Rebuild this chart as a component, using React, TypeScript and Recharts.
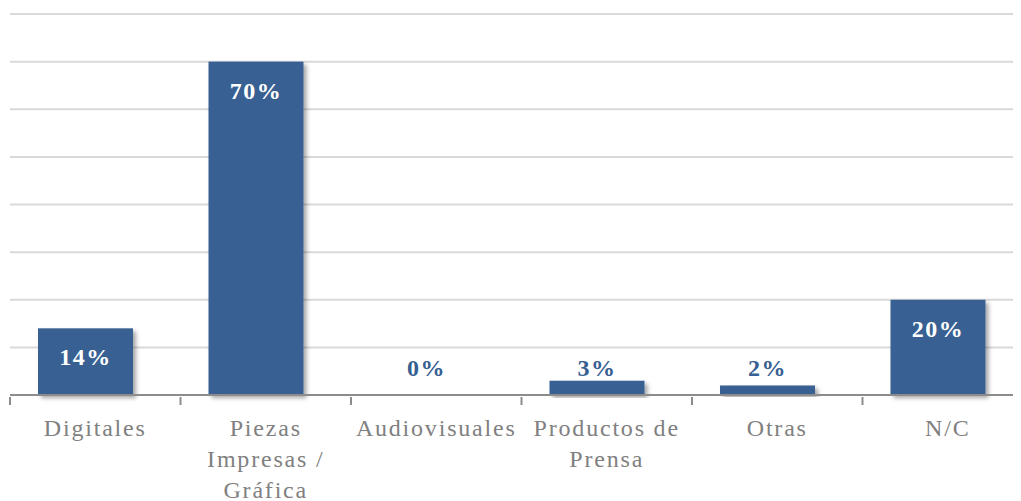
import { BarChart, Bar, XAxis, YAxis, CartesianGrid } from 'recharts'

const categories = ['Digitales', 'Piezas Impresas / Gráfica', 'Audiovisuales', 'Productos de Prensa', 'Otras', 'N/C']
const tickLines = [
  ['Digitales'],
  ['Piezas', 'Impresas /', 'Gráfica'],
  ['Audiovisuales'],
  ['Productos de', 'Prensa'],
  ['Otras'],
  ['N/C'],
]
const shares = [14, 70, 0, 3, 2, 20]
const yTicks = [0, 10, 20, 30, 40, 50, 60, 70, 80]

const BAR = '#376092'
const SERIF = 'Liberation Serif, serif'
const BAND = 1023 / categories.length
const BAR_SHIFT = -10

const data = categories.map((name, i) => ({ name, value: shares[i] }))

function CategoryTick(props: any) {
  const { x, y, index } = props
  const lines = tickLines[index] ?? []
  const axisY = y - 8
  const isLast = index === categories.length - 1
  return (
    <g>
      <line x1={x - BAND / 2} x2={x - BAND / 2} y1={axisY} y2={axisY + 8} stroke="#8c8c8c" strokeWidth={2} />
      {isLast && (
        <line x1={x + BAND / 2} x2={x + BAND / 2} y1={axisY} y2={axisY + 8} stroke="#8c8c8c" strokeWidth={2} />
      )}
      {lines.map((line, i) => (
        <text
          key={i}
          x={x}
          y={y + i * 31}
          dy={31}
          textAnchor="middle"
          fill="#808080"
          fontFamily={SERIF}
          fontSize={24}
          letterSpacing={1.8}
        >
          {line}
        </text>
      ))}
    </g>
  )
}

// bar plus its value: big bars carry it inside the top, short ones just above the axis
function ShareBar(props: any) {
  const { x, y, width, height, value } = props
  const v = Array.isArray(value) ? value[1] - value[0] : value
  const bx = x + BAR_SHIFT
  const inside = height > 40
  const baseline = inside ? y + 37 : y + height - 19
  return (
    <g>
      {height > 0 && <rect x={bx} y={y} width={width} height={height} fill={BAR} filter="url(#barShadow)" />}
      <text
        x={bx + width / 2}
        y={baseline}
        textAnchor="middle"
        fill={inside ? '#ffffff' : BAR}
        fontFamily={SERIF}
        fontWeight="bold"
        fontSize={24}
        letterSpacing={1.5}
      >
        {`${v}%`}
      </text>
    </g>
  )
}

export default function App() {
  return (
    <div style={{ width: 1013, height: 493, overflow: 'hidden', background: '#fff' }}>
      <BarChart
        width={1030}
        height={493}
        data={data}
        margin={{ top: 6, right: 5, bottom: 46, left: 2 }}
        barSize={95}
      >
        <defs>
          <filter id="barShadow" x="-10%" y="-10%" width="130%" height="130%">
            <feDropShadow dx={3} dy={3} stdDeviation={2} floodColor="#000" floodOpacity={0.35} />
          </filter>
        </defs>
        <CartesianGrid vertical={false} stroke="#d9d9d9" strokeWidth={2} />
        <YAxis hide width={0} domain={[0, 80]} ticks={yTicks} />
        <XAxis
          dataKey="name"
          height={60}
          interval={0}
          stroke="#8c8c8c"
          strokeWidth={2}
          tickLine={false}
          tickSize={8}
          tick={<CategoryTick />}
        />
        <Bar dataKey="value" shape={<ShareBar />} isAnimationActive={false} />
      </BarChart>
    </div>
  )
}
